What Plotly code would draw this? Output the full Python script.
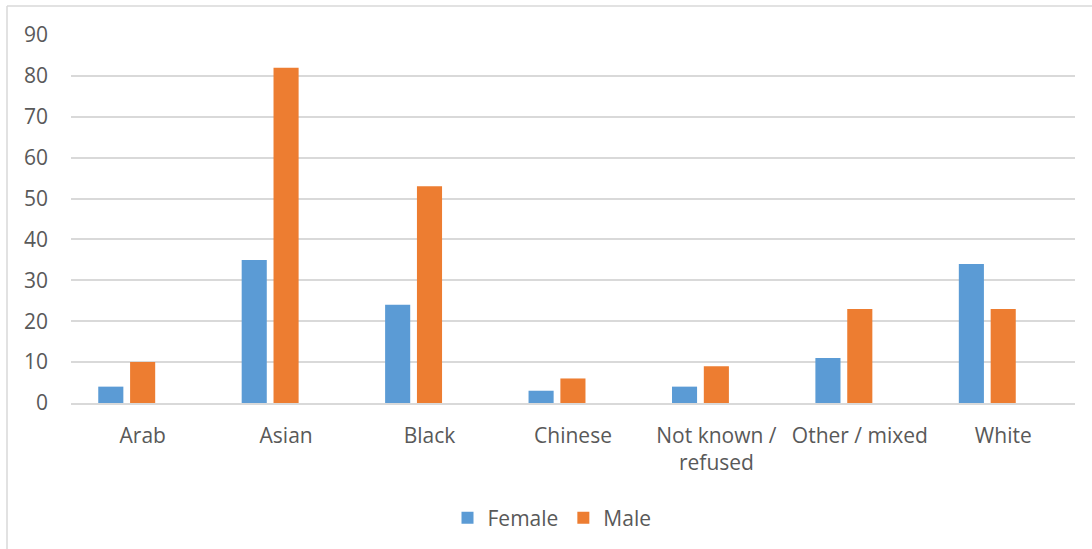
import plotly.graph_objects as go

# Respondents by ethnicity and sex
categories = ["Arab", "Asian", "Black", "Chinese", "Not known /<br>refused", "Other / mixed", "White"]
female = [4, 35, 24, 3, 4, 11, 34]
male = [10, 82, 53, 6, 9, 23, 23]
y_ticks = [0, 10, 20, 30, 40, 50, 60, 70, 80, 90]

W, H = 1092, 549
ML, MR, MT, MB = 71, 17, 35, 145
pw, ph = W - ML - MR, H - MT - MB

font = dict(family="Open Sans, Segoe UI, sans-serif", size=21, color="#595959")
grid = "#d9d9d9"

fig = go.Figure()
fig.add_trace(go.Bar(name="Female", x=categories, y=female, marker=dict(color="#5b9bd5", line=dict(width=0)),
                     width=0.175, offset=-0.31))
fig.add_trace(go.Bar(name="Male", x=categories, y=male, marker=dict(color="#ed7d31", line=dict(width=0)),
                     width=0.175, offset=-0.088))

# chart frame (left and top edges)
fx0 = (7 - ML) / pw
fy1 = 1 + (MT - 6) / ph
fig.add_shape(type="line", xref="paper", yref="paper", x0=fx0, x1=fx0, y0=-2, y1=fy1,
              line=dict(color=grid, width=1.5))
fig.add_shape(type="line", xref="paper", yref="paper", x0=fx0, x1=2, y0=fy1, y1=fy1,
              line=dict(color=grid, width=1.5))

fig.update_layout(
    width=W, height=H,
    margin=dict(l=ML, r=MR, t=MT, b=MB, pad=0),
    paper_bgcolor="white", plot_bgcolor="white",
    font=font,
    barmode="group",
    showlegend=True,
    legend=dict(orientation="h", x=(552 - ML) / pw, xanchor="center",
                y=-(518 - MT - ph) / ph, yanchor="middle", yref="paper",
                font=font, itemwidth=30, traceorder="normal"),
    xaxis=dict(showgrid=False, showline=True, linecolor=grid, linewidth=1.5,
               ticks="", tickfont=font, ticklabelstandoff=13, zeroline=False),
    yaxis=dict(range=[0, 90], tickvals=y_ticks, showgrid=True, gridcolor=grid, gridwidth=1.5,
               zeroline=False, showline=False, ticks="", tickfont=font, ticklabelstandoff=22),
)

fig.write_html("out.html")
